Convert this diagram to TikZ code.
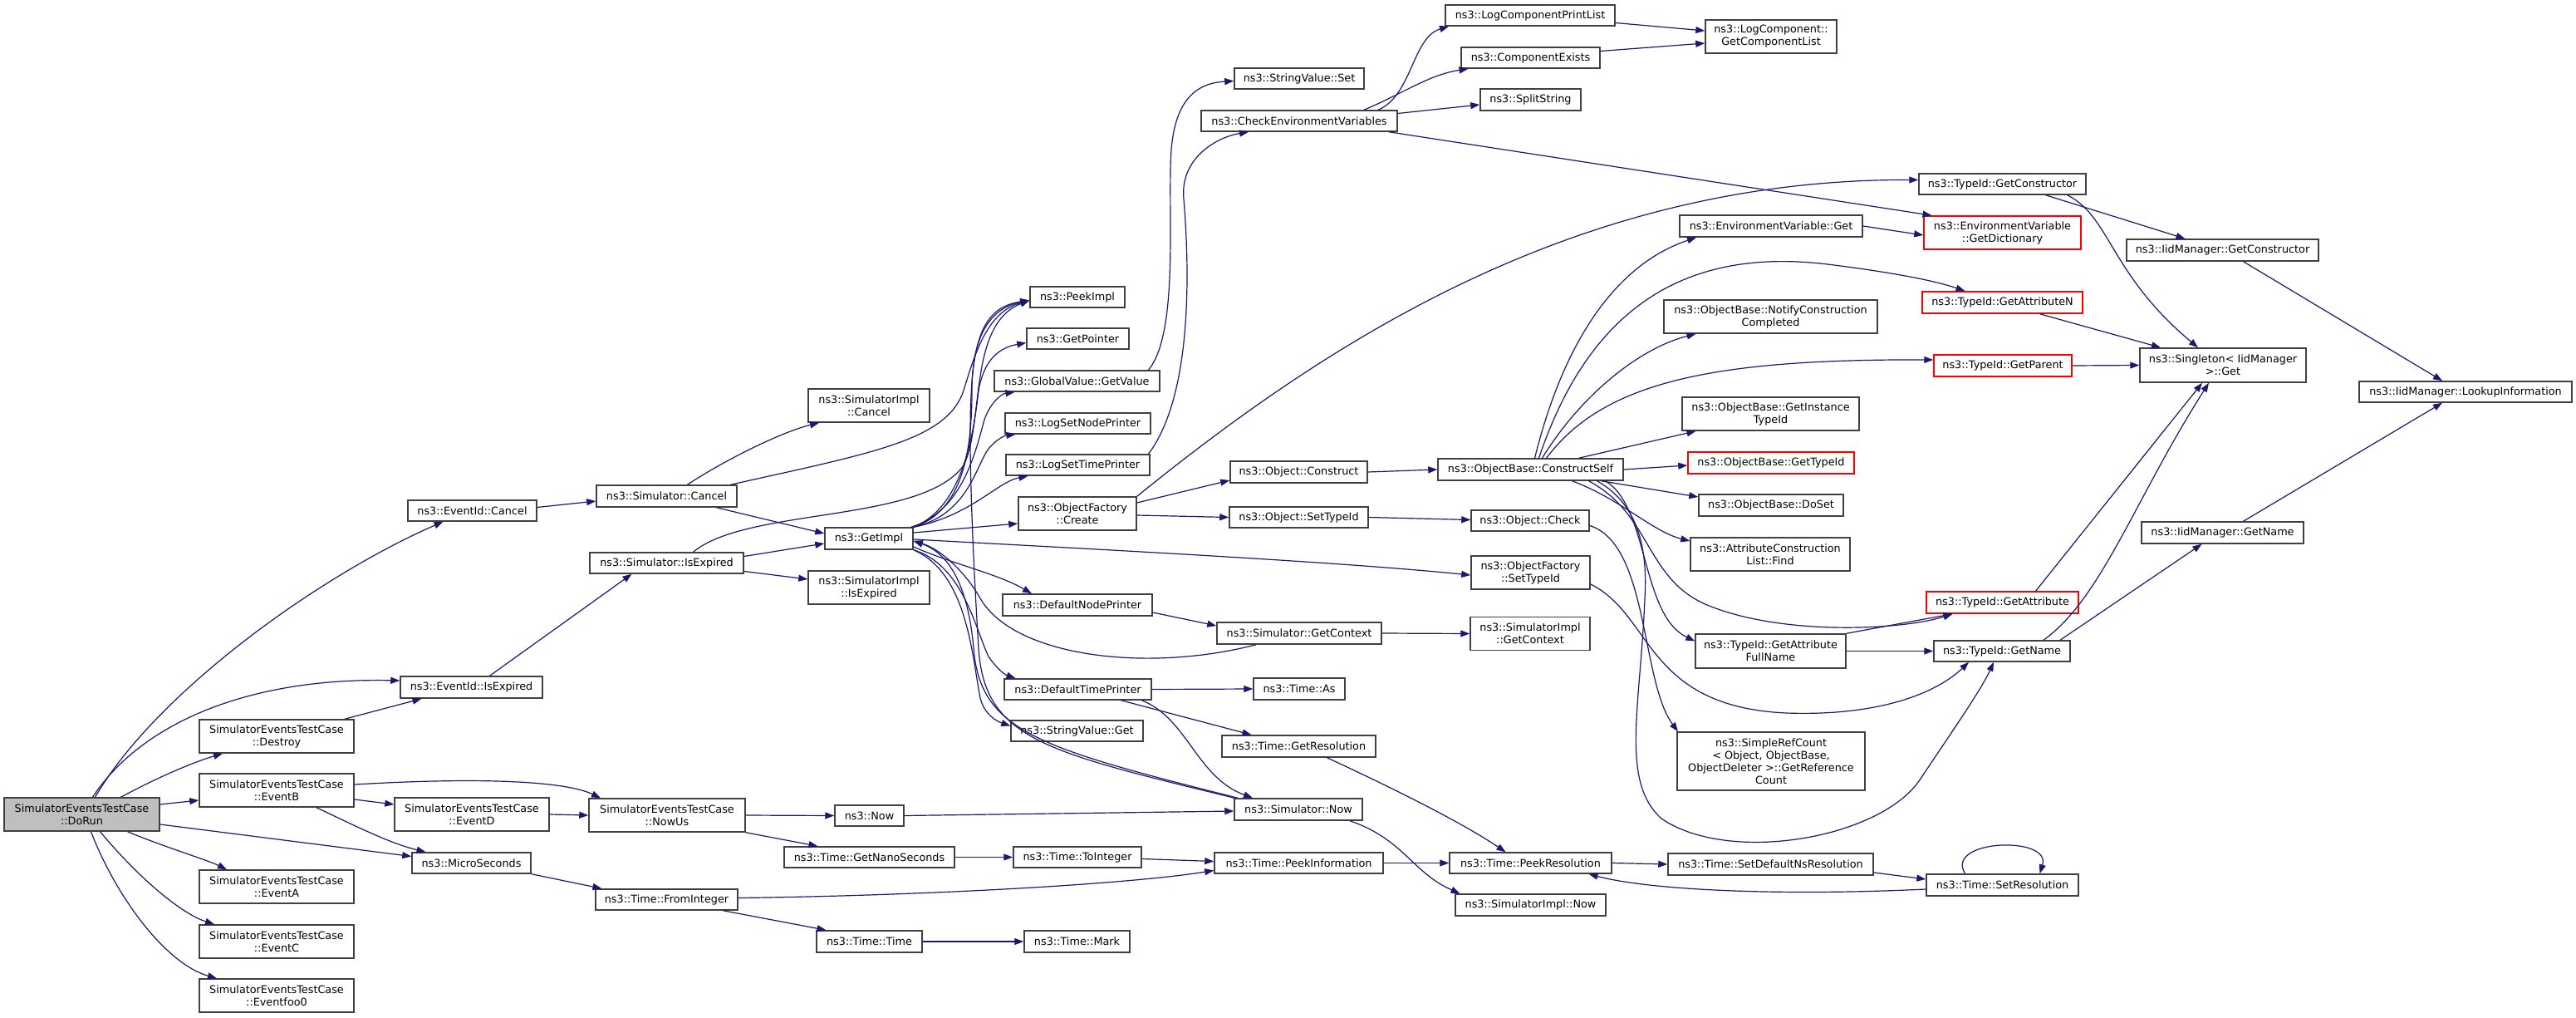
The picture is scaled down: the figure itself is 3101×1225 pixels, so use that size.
\documentclass[tikz,border=0pt]{standalone}
\usepackage{fontspec}
\setmainfont{DejaVu Sans}
\usetikzlibrary{arrows.meta}
\definecolor{edgecol}{HTML}{191970}
\definecolor{boxcol}{HTML}{404040}
\definecolor{rootfill}{HTML}{BFBFBF}
\tikzset{
  fn/.style={draw=boxcol, line width=1.5pt, fill=white, inner sep=0pt, align=center,
    font=\fontsize{12.8}{15}\selectfont},
  redbox/.style={draw=red},
  rootbox/.style={fill=rootfill},
  edge/.style={draw=edgecol, line width=1.2pt, -{Triangle[length=11pt,width=8pt]}}
}
\newcommand\mynd[6][]{\node[fn,minimum width=#4pt,minimum height=#5pt,#1] (#2) at (#3) {#6};}
\begin{document}
\begin{tikzpicture}[x=1pt,y=-1pt]
\useasboundingbox (0,0) rectangle (3101,1225);
\fill[white] (0,0) rectangle (3101,1225);
% column 0-2
\mynd[rootbox]{dorun}{98.5,980}{187}{40}{SimulatorEventsTestCase\\::DoRun}
\mynd{destroy}{333,886}{186}{40}{SimulatorEventsTestCase\\::Destroy}
\mynd{eventb}{333,951}{186}{40}{SimulatorEventsTestCase\\::EventB}
\mynd{eventa}{333,1067}{186}{40}{SimulatorEventsTestCase\\::EventA}
\mynd{eventc}{333,1133}{186}{40}{SimulatorEventsTestCase\\::EventC}
\mynd{eventfoo}{333,1198}{186}{40}{SimulatorEventsTestCase\\::Eventfoo0}
\mynd{eidcancel}{568.5,614.5}{155}{25}{ns3::EventId::Cancel}
\mynd{eidexp}{567.5,827}{171}{26}{ns3::EventId::IsExpired}
\mynd{eventd}{568,980}{186}{40}{SimulatorEventsTestCase\\::EventD}
\mynd{micro}{567.5,1038.5}{143}{25}{ns3::MicroSeconds}
% column 3
\mynd{simcancel}{802.5,597}{169}{26}{ns3::Simulator::Cancel}
\mynd{simexp}{802.5,677.5}{185}{25}{ns3::Simulator::IsExpired}
\mynd{nowus}{803,981}{188}{40}{SimulatorEventsTestCase\\::NowUs}
\mynd{fromint}{802.5,1082.5}{171}{25}{ns3::Time::FromInteger}
% column 4
\mynd{implcancel}{1046,488}{146}{40}{ns3::SimulatorImpl\\::Cancel}
\mynd{getimpl}{1046,648}{106}{26}{ns3::GetImpl}
\mynd{implexp}{1046,707}{146}{40}{ns3::SimulatorImpl\\::IsExpired}
\mynd{now}{1046.5,981.5}{83}{25}{ns3::Now}
\mynd{getnano}{1046.5,1031.5}{205}{25}{ns3::Time::GetNanoSeconds}
\mynd{ttime}{1046.5,1133}{127}{26}{ns3::Time::Time}
% column 5
\mynd{peekimpl}{1297,357.5}{114}{25}{ns3::PeekImpl}
\mynd{getpointer}{1297.5,407.5}{123}{25}{ns3::GetPointer}
\mynd{gvgetvalue}{1296.5,458.5}{199}{25}{ns3::GlobalValue::GetValue}
\mynd{lognode}{1297.5,509.5}{175}{25}{ns3::LogSetNodePrinter}
\mynd{logtime}{1297.5,559.5}{173}{25}{ns3::LogSetTimePrinter}
\mynd{ofcreate}{1297,618}{142}{40}{ns3::ObjectFactory\\::Create}
\mynd{defnode}{1297,728}{180}{26}{ns3::DefaultNodePrinter}
\mynd{deftime}{1297.5,829.5}{177}{25}{ns3::DefaultTimePrinter}
\mynd{svget}{1296.5,879.5}{159}{25}{ns3::StringValue::Get}
\mynd{tointeger}{1297,1031.5}{154}{25}{ns3::Time::ToInteger}
\mynd{tmark}{1296.5,1133}{127}{26}{ns3::Time::Mark}
% column 6
\mynd{svset}{1564,94.5}{156}{25}{ns3::StringValue::Set}
\mynd{checkenv}{1564,145.5}{236}{25}{ns3::CheckEnvironmentVariables}
\mynd{objconstruct}{1563.5,568}{165}{26}{ns3::Object::Construct}
\mynd{objsettypeid}{1563.5,622.5}{167}{25}{ns3::Object::SetTypeId}
\mynd{getcontext}{1564,762}{198}{26}{ns3::Simulator::GetContext}
\mynd{timeas}{1564,829}{110}{26}{ns3::Time::As}
\mynd{getres}{1563.5,898}{185}{26}{ns3::Time::GetResolution}
\mynd{simnow}{1563,974}{154}{26}{ns3::Simulator::Now}
\mynd{peekinfo}{1563.5,1038.5}{203}{25}{ns3::Time::PeekInformation}
% column 7
\mynd{logprint}{1842,18.5}{204}{25}{ns3::LogComponentPrintList}
\mynd{compexists}{1842.5,69.5}{167}{25}{ns3::ComponentExists}
\mynd{splitstr}{1842.5,120}{121}{26}{ns3::SplitString}
\mynd{constructself}{1842.5,565}{223}{26}{ns3::ObjectBase::ConstructSelf}
\mynd{objcheck}{1842,626.5}{142}{25}{ns3::Object::Check}
\mynd{ofsettypeid}{1842.5,689}{143}{40}{ns3::ObjectFactory\\::SetTypeId}
\mynd{implgetcontext}{1842,762.5}{144}{40}{ns3::SimulatorImpl\\::GetContext}
\mynd{peekres}{1842.5,1038.5}{195}{25}{ns3::Time::PeekResolution}
\mynd{implnow}{1842.5,1089}{181}{26}{ns3::SimulatorImpl::Now}
% column 8
\mynd{getcomplist}{2132,44}{158}{40}{ns3::LogComponent::\\GetComponentList}
\mynd{envget}{2132,272}{220}{26}{ns3::EnvironmentVariable::Get}
\mynd{notify}{2131.5,381}{257}{40}{ns3::ObjectBase::NotifyConstruction\\Completed}
\mynd{getinst}{2131.5,498}{213}{40}{ns3::ObjectBase::GetInstance\\TypeId}
\mynd[redbox]{obgettypeid}{2132,557}{200}{26}{ns3::ObjectBase::GetTypeId}
\mynd{doset}{2132,608}{174}{26}{ns3::ObjectBase::DoSet}
\mynd{acfind}{2131,667}{192}{40}{ns3::AttributeConstruction\\List::Find}
\mynd{getattrfull}{2131.5,783.5}{181}{41}{ns3::TypeId::GetAttribute\\FullName}
\mynd{simpleref}{2132,916}{226}{70}{ns3::SimpleRefCount\\< Object, ObjectBase,\\ ObjectDeleter >::GetReference\\Count}
\mynd{setdefns}{2131.5,1040}{247}{26}{ns3::Time::SetDefaultNsResolution}
% column 9
\mynd{getctor}{2410.5,221.5}{201}{25}{ns3::TypeId::GetConstructor}
\mynd[redbox]{getdict}{2410.5,280}{189}{40}{ns3::EnvironmentVariable\\::GetDictionary}
\mynd[redbox]{getattrn}{2410.5,364}{193}{26}{ns3::TypeId::GetAttributeN}
\mynd[redbox]{getparent}{2411,440}{166}{26}{ns3::TypeId::GetParent}
\mynd[redbox]{getattr}{2410.5,725}{183}{26}{ns3::TypeId::GetAttribute}
\mynd{getname}{2410,783.5}{164}{25}{ns3::TypeId::GetName}
\mynd{setres}{2410.5,1065}{183}{26}{ns3::Time::SetResolution}
% column 10-11
\mynd{iidctor}{2675.5,301}{231}{26}{ns3::IidManager::GetConstructor}
\mynd{singleton}{2676,439.5}{200}{41}{ns3::Singleton< IidManager\\ >::Get}
\mynd{iidname}{2675.5,641}{195}{26}{ns3::IidManager::GetName}
\mynd{lookup}{2968,471.5}{256}{25}{ns3::IidManager::LookupInformation}

% ---------------- edges ----------------
% from DoRun
\draw[edge] ([xshift=16]dorun.north) .. controls (190,830) and (390,690) .. ([xshift=-35]eidcancel.south);
\draw[edge] ([xshift=13]dorun.north) .. controls (170,870) and (300,815) .. ([yshift=8]eidexp.west);
\draw[edge] ([xshift=47]dorun.north) .. controls (200,930) and (240,915) .. ([xshift=-65]destroy.south);
\draw[edge] ([yshift=12]dorun.east) -- ([yshift=-12]eventb.west);
\draw[edge] ([yshift=-12]dorun.east) -- ([yshift=8]micro.west);
\draw[edge] ([xshift=55]dorun.south) .. controls (200,1020) and (250,1035) .. ([xshift=-60]eventa.north);
\draw[edge] ([xshift=22]dorun.south) .. controls (170,1060) and (220,1100) .. ([xshift=-75]eventc.north);
\draw[edge] ([xshift=11]dorun.south) .. controls (140,1080) and (200,1160) .. ([xshift=-72]eventfoo.north);
% EventB, Destroy, EventD
\draw[edge] ([yshift=7]eventb.east) .. controls (580,935) and (680,940) .. ([xshift=-80]nowus.north);
\draw[edge] ([yshift=-11]eventb.east) -- ([yshift=12]eventd.west);
\draw[edge] ([xshift=48]eventb.south) .. controls (430,995) and (470,1015) .. ([xshift=-55]micro.north);
\draw[edge] ([xshift=82]destroy.north) -- ([xshift=-60]eidexp.south);
\draw[edge] ([yshift=4]eidcancel.east) -- ([yshift=-6]simcancel.west);
\draw[edge] ([xshift=22]eidexp.north) -- ([xshift=-42]simexp.south);
\draw[edge] (eventd.east) -- (nowus.west);
\draw[edge] (micro.south east) -- ([xshift=-78]fromint.north);
% Simulator::Cancel / IsExpired
\draw[edge] ([xshift=25]simcancel.north) .. controls (870,555) and (940,520) .. ([xshift=-60]implcancel.south);
\draw[edge] ([xshift=77]simcancel.north) .. controls (1050,545) and (1140,530) .. (1160,470) .. controls (1175,420) and (1190,375) .. ([yshift=-4]peekimpl.west);
\draw[edge] ([xshift=60]simcancel.south) -- ([yshift=6]getimpl.west);
\draw[edge] ([yshift=8]simexp.east) -- ([yshift=-6]getimpl.west);
\draw[edge] ([yshift=-10]simexp.east) -- ([yshift=10]implexp.west);
\draw[edge] ([xshift=32]simexp.north) .. controls (900,610) and (1110,630) .. (1160,560) .. controls (1185,510) and (1165,390) .. ([yshift=-4]peekimpl.west);
% GetImpl
\draw[edge] (getimpl.north east) .. controls (1160,615) and (1170,540) .. (1170,470) .. controls (1170,400) and (1195,370) .. ([yshift=-4]peekimpl.west);
\draw[edge] (getimpl.north east) .. controls (1160,610) and (1172,520) .. (1178,470) .. controls (1185,430) and (1205,418) .. ([yshift=-5]getpointer.west);
\draw[edge] ([xshift=-3]getimpl.north east) .. controls (1160,615) and (1175,540) .. (1185,505) .. controls (1192,485) and (1205,474) .. ([xshift=-75]gvgetvalue.south);
\draw[edge] (getimpl.north east) .. controls (1165,620) and (1175,560) .. (1190,540) .. controls (1200,528) and (1210,524) .. ([xshift=-75]lognode.south);
\draw[edge] (getimpl.north east) .. controls (1170,620) and (1200,580) .. ([xshift=-60]logtime.south);
\draw[edge] ([yshift=7]getimpl.east) -- ([yshift=-12]ofcreate.west);
\draw[edge] ([yshift=-10]getimpl.east) .. controls (1150,680) and (1200,690) .. ([xshift=-55]defnode.north);
\draw[edge] (getimpl.south east) .. controls (1160,680) and (1175,760) .. (1190,790) .. controls (1200,805) and (1210,812) .. ([xshift=-75]deftime.north);
\draw[edge] (getimpl.south east) .. controls (1165,690) and (1170,790) .. (1180,840) .. controls (1185,860) and (1200,868) .. ([yshift=6]svget.west);
\draw[edge] ([yshift=-1]getimpl.east) .. controls (1300,660) and (1600,675) .. ([yshift=-3]ofsettypeid.west);
% back to GetImpl / PeekImpl
\draw[edge] ([xshift=-52]getcontext.south) .. controls (1380,810) and (1220,790) .. (1180,720) .. controls (1160,685) and (1130,660) .. ([yshift=-3]getimpl.east);
\draw[edge] ([xshift=-73]simnow.north) .. controls (1250,900) and (1180,880) .. (1172,780) .. controls (1165,700) and (1140,665) .. ([yshift=-3]getimpl.east);
\draw[edge] ([xshift=-77]simnow.north) .. controls (1260,905) and (1185,890) .. (1178,780) .. controls (1170,650) and (1165,520) .. (1170,460) .. controls (1175,390) and (1195,368) .. ([yshift=-4]peekimpl.west);
% Simulator::Now, printers
\draw[edge] ([xshift=62]simnow.south) .. controls (1690,1010) and (1700,1050) .. ([xshift=-85]implnow.north);
\draw[edge] (now.east) -- ([yshift=-2]simnow.west);
\draw[edge] ([yshift=-9]defnode.east) -- ([yshift=9]getcontext.west);
\draw[edge] (getcontext.east) -- (implgetcontext.west);
\draw[edge] (deftime.east) -- (timeas.west);
\draw[edge] ([xshift=52]deftime.south) -- ([xshift=-57]getres.north);
\draw[edge] ([xshift=77]deftime.south) .. controls (1430,865) and (1440,935) .. ([xshift=-55]simnow.north);
\draw[edge] ([xshift=34]getres.south) .. controls (1680,950) and (1760,990) .. ([xshift=-30]peekres.north);
% time chain
\draw[edge] (nowus.east) -- (now.west);
\draw[edge] (nowus.south east) -- ([xshift=-62]getnano.north);
\draw[edge] (getnano.east) -- (tointeger.west);
\draw[edge] ([yshift=-2]tointeger.east) -- ([yshift=2]peekinfo.west);
\draw[edge] ([yshift=2]fromint.east) .. controls (1100,1078) and (1350,1065) .. ([yshift=-9]peekinfo.west);
\draw[edge] ([xshift=68]fromint.south) -- ([xshift=-52]ttime.north);
\draw[edge] (ttime.east) -- (tmark.west);
\draw[edge] (peekinfo.east) -- (peekres.west);
\draw[edge] (peekres.east) -- (setdefns.west);
\draw[edge] ([yshift=-10]setdefns.east) -- ([yshift=7]setres.west);
\draw[edge] ([yshift=-5]setres.west) .. controls (2150,1078) and (1990,1072) .. ([xshift=70]peekres.south);
\draw[edge] ([xshift=-45]setres.north) .. controls (2340,1010) and (2470,1005) .. ([xshift=45]setres.north);
% ObjectFactory
\draw[edge] ([yshift=13]ofcreate.east) -- ([yshift=-10]objconstruct.west);
\draw[edge] ([yshift=-2]ofcreate.east) -- (objsettypeid.west);
\draw[edge] (ofcreate.north east) .. controls (1600,410) and (1900,215) .. ([yshift=5]getctor.west);
\draw[edge] (objconstruct.east) -- (constructself.west);
\draw[edge] (objsettypeid.east) -- ([yshift=1]objcheck.west);
\draw[edge] ([yshift=-6]objcheck.east) .. controls (1985,655) and (1975,820) .. ([xshift=-112]simpleref.north);
\draw[edge] ([yshift=-14]ofsettypeid.east) .. controls (1990,740) and (1980,850) .. (2150,858) .. controls (2260,862) and (2330,835) .. ([xshift=-40]getname.south);
% ConstructSelf
\draw[edge] ([xshift=80]constructself.south) .. controls (1960,600) and (1985,640) .. (1980,720) .. controls (1975,850) and (1950,940) .. (2000,985) .. controls (2080,1040) and (2260,1010) .. (2310,940) .. controls (2350,880) and (2385,830) .. ([xshift=-10]getname.south);
\draw[edge] ([xshift=90]constructself.south) .. controls (1985,610) and (1975,740) .. ([yshift=12]getattrfull.west);
\draw[edge] ([xshift=70]constructself.south) .. controls (1990,620) and (1980,700) .. (2060,730) .. controls (2150,765) and (2290,758) .. ([xshift=-60]getattr.south);
\draw[edge] ([xshift=50]constructself.south) .. controls (1950,600) and (1990,640) .. ([yshift=16]acfind.west);
\draw[edge] ([xshift=85]constructself.south) -- ([yshift=10]doset.west);
\draw[edge] (constructself.east) -- ([yshift=-3]obgettypeid.west);
\draw[edge] ([xshift=58]constructself.north) -- ([xshift=-90]getinst.south);
\draw[edge] ([xshift=14]constructself.north) .. controls (1900,480) and (1970,420) .. ([xshift=-90]notify.south);
\draw[edge] ([xshift=19]constructself.north) .. controls (1930,460) and (2060,432) .. ([yshift=7]getparent.west);
\draw[edge] ([xshift=10]constructself.north) .. controls (1920,350) and (2050,300) .. (2200,318) .. controls (2280,328) and (2330,338) .. ([xshift=-45]getattrn.north);
\draw[edge] ([xshift=5]constructself.north) .. controls (1880,420) and (1940,320) .. ([xshift=-90]envget.south);
\draw[edge] (envget.east) -- ([yshift=-3]getdict.west);
% CheckEnvironmentVariables
\draw[edge] ([xshift=108]checkenv.south) -- ([xshift=-85]getdict.north);
\draw[edge] ([xshift=95]checkenv.north) .. controls (1700,115) and (1700,45) .. ([xshift=-98]logprint.south);
\draw[edge] ([xshift=78]checkenv.north) .. controls (1690,112) and (1720,90) .. ([xshift=-75]compexists.south);
\draw[edge] ([yshift=9]checkenv.east) -- ([yshift=-6]splitstr.west);
\draw[edge] ([yshift=-9]logprint.east) -- ([yshift=7]getcomplist.west);
\draw[edge] ([yshift=8]compexists.east) -- ([yshift=-8]getcomplist.west);
\draw[edge] ([xshift=86]gvgetvalue.north) .. controls (1420,400) and (1405,250) .. (1410,180) .. controls (1415,120) and (1440,100) .. ([yshift=-3]svset.west);
\draw[edge] ([xshift=85]logtime.north) .. controls (1440,470) and (1430,300) .. (1425,240) .. controls (1420,190) and (1465,165) .. ([xshift=-61]checkenv.south);
% TypeId / IidManager
\draw[edge] ([xshift=52]getctor.south) -- ([xshift=-45]iidctor.north);
\draw[edge] ([xshift=78]getctor.south) .. controls (2540,260) and (2540,330) .. ([xshift=-30]singleton.north);
\draw[edge] ([xshift=25]iidctor.south) -- ([xshift=-28]lookup.north);
\draw[edge] ([xshift=45]getattrn.south) -- ([xshift=-75]singleton.north);
\draw[edge] (getparent.east) -- (singleton.west);
\draw[edge] ([xshift=40]getattr.north) -- ([xshift=-25]singleton.south);
\draw[edge] ([xshift=50]getname.north) .. controls (2530,720) and (2570,600) .. ([xshift=-17]singleton.south);
\draw[edge] ([xshift=70]getname.north) -- ([xshift=-25]iidname.south);
\draw[edge] ([xshift=25]iidname.north) -- ([xshift=-28]lookup.south);
\draw[edge] (getattrfull.north east) -- ([xshift=-60]getattr.south);
\draw[edge] (getattrfull.east) -- (getname.west);
\end{tikzpicture}
\end{document}
